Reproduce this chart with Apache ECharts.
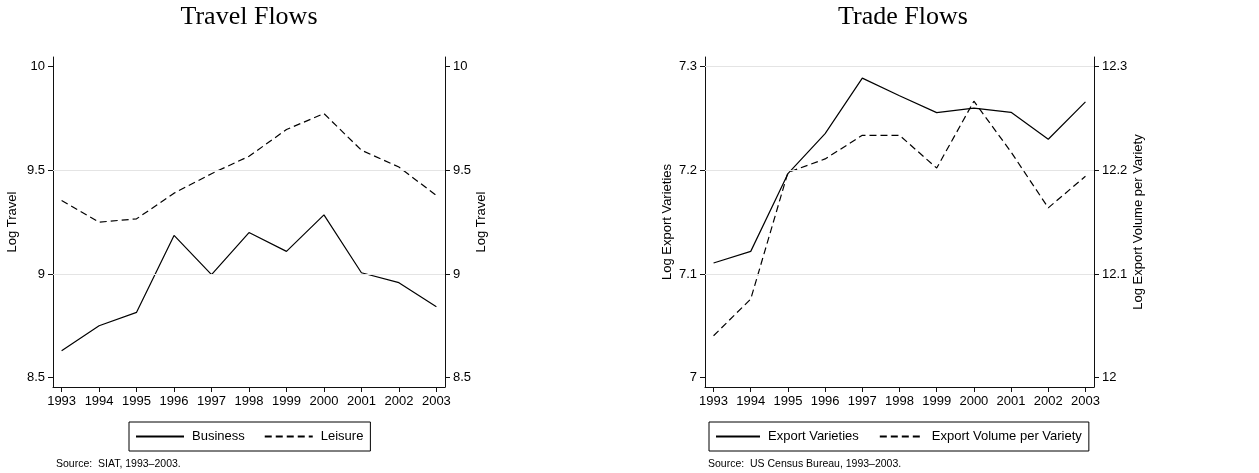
<!DOCTYPE html>
<html>
<head>
<meta charset="utf-8">
<script src="https://cdn.jsdelivr.net/npm/echarts@6/dist/echarts.min.js"></script>
<style>
  html, body { margin: 0; padding: 0; background: #fff; }
  #chart { width: 1259px; height: 473px; }
</style>
</head>
<body>
<div id="chart"></div>
<script>
// Years shared by both panels
const years = [1993, 1994, 1995, 1996, 1997, 1998, 1999, 2000, 2001, 2002, 2003];

// Travel flows (log)
const business = [8.63, 8.75, 8.815, 9.186, 8.997, 9.20, 9.109, 9.285, 9.006, 8.958, 8.842];
const leisure  = [9.355, 9.25, 9.266, 9.39, 9.484, 9.568, 9.697, 9.774, 9.597, 9.516, 9.379];

// Trade flows (log)
const exportVarieties = [7.1106, 7.1218, 7.1968, 7.2355, 7.289, 7.272, 7.2557, 7.26, 7.256, 7.230, 7.266];
const volumePerVariety = [12.0404, 12.0758, 12.198, 12.211, 12.2338, 12.2338, 12.2022, 12.2667, 12.2177, 12.1638, 12.1943];

// Tick labels and gridlines
const travelTicks = [8.5, 9, 9.5, 10];
const travelGrid = [9, 9.5];
const varietyTicks = [7, 7.1, 7.2, 7.3];
const volumeTicks = [12, 12.1, 12.2, 12.3];
const tradeGrid = [7.1, 7.2, 7.3];

const SANS = '"Liberation Sans", Arial, Helvetica, sans-serif';
const SERIF = '"Liberation Serif", "DejaVu Serif", serif';
const INK = '#111';
const DASH = [7, 4];
const FS = 13;

const pairs = (vals) => years.map((y, i) => [y, vals[i]]);

function xAxis(gridIndex) {
  return {
    type: 'value', gridIndex,
    min: 1992.77, max: 2003.23,
    axisLine: { show: true, onZero: false, lineStyle: { color: INK, width: 1 } },
    axisTick: { show: true, length: 5, customValues: years, lineStyle: { color: INK } },
    axisLabel: { customValues: years, margin: 8, color: '#000', fontSize: FS, fontFamily: SANS,
                 formatter: v => String(v) },
    splitLine: { show: false }
  };
}

function yAxis(gridIndex, position, min, max, ticks, name, nameGap) {
  return {
    type: 'value', gridIndex, position, min, max,
    name, nameLocation: 'middle', nameGap, nameRotate: 90,
    nameTextStyle: { color: '#000', fontSize: FS, fontFamily: SANS },
    axisLine: { show: true, onZero: false, lineStyle: { color: INK, width: 1 } },
    axisTick: { show: true, length: 5, customValues: ticks, lineStyle: { color: INK } },
    axisLabel: { customValues: ticks, margin: 8, color: '#000', fontSize: FS, fontFamily: SANS,
                 formatter: v => String(Math.round(v * 100) / 100) },
    splitLine: { show: false }
  };
}

function gridLines(values) {
  return {
    silent: true, symbol: ['none', 'none'], animation: false,
    label: { show: false },
    lineStyle: { color: '#e4e4e4', width: 1, type: 'solid' },
    data: values.map(v => ({ yAxis: v }))
  };
}

function line(name, data, xi, yi, dashed, marks) {
  const s = {
    name, type: 'line', xAxisIndex: xi, yAxisIndex: yi,
    data: pairs(data), symbol: 'none', showSymbol: false,
    lineStyle: { color: '#000', width: 1.2, type: dashed ? DASH : 'solid' },
    itemStyle: { color: '#000' },
    z: 3
  };
  if (marks) s.markLine = marks;
  return s;
}

function legend(left, names, width, gap) {
  return {
    left, top: 422, orient: 'horizontal',
    data: names, itemWidth: width, itemHeight: 12, itemGap: gap,
    itemStyle: { opacity: 0 },
    borderColor: '#000', borderWidth: 1, borderRadius: 0,
    padding: [8, 7, 8, 6], selectedMode: false,
    textStyle: { color: '#000', fontSize: FS, fontFamily: SANS, padding: [0, 0, 0, 3] }
  };
}

const titleStyle = { fontFamily: SERIF, fontWeight: 'normal', fontSize: 26, color: '#000' };
const sourceStyle = { fontFamily: SANS, fontWeight: 'normal', fontSize: 10.5, color: '#000' };

const chart = echarts.init(document.getElementById('chart'), null, { renderer: 'canvas' });
chart.setOption({
  animation: false,
  backgroundColor: '#fff',
  title: [
    { text: 'Travel Flows', left: 249, top: 4, padding: 0, textAlign: 'center', textStyle: titleStyle },
    { text: 'Trade Flows', left: 903, top: 4, padding: 0, textAlign: 'center', textStyle: titleStyle },
    { text: 'Source:  SIAT, 1993\u20132003.', left: 56, top: 459, padding: 0, textStyle: sourceStyle },
    { text: 'Source:  US Census Bureau, 1993\u20132003.', left: 708, top: 459, padding: 0, textStyle: sourceStyle }
  ],
  grid: [
    { left: 53, top: 57, width: 392, height: 330, containLabel: false },
    { left: 705, top: 57, width: 389, height: 330, containLabel: false }
  ],
  xAxis: [xAxis(0), xAxis(1)],
  yAxis: [
    yAxis(0, 'left', 8.4546, 10.047, travelTicks, 'Log Travel', 34),
    yAxis(0, 'right', 8.4546, 10.047, travelTicks, 'Log Travel', 30),
    yAxis(1, 'left', 6.99092, 7.30937, varietyTicks, 'Log Export Varieties', 31),
    yAxis(1, 'right', 11.99092, 12.30937, volumeTicks, 'Log Export Volume per Variety', 38)
  ],
  legend: [
    legend(129, ['Business', 'Leisure'], 48, 19),
    legend(709, ['Export Varieties', 'Export Volume per Variety'], 44, 20)
  ],
  series: [
    line('Business', business, 0, 0, false, gridLines(travelGrid)),
    line('Leisure', leisure, 0, 0, true),
    line('Export Varieties', exportVarieties, 1, 2, false, gridLines(tradeGrid)),
    line('Export Volume per Variety', volumePerVariety, 1, 3, true)
  ]
});
</script>
</body>
</html>
